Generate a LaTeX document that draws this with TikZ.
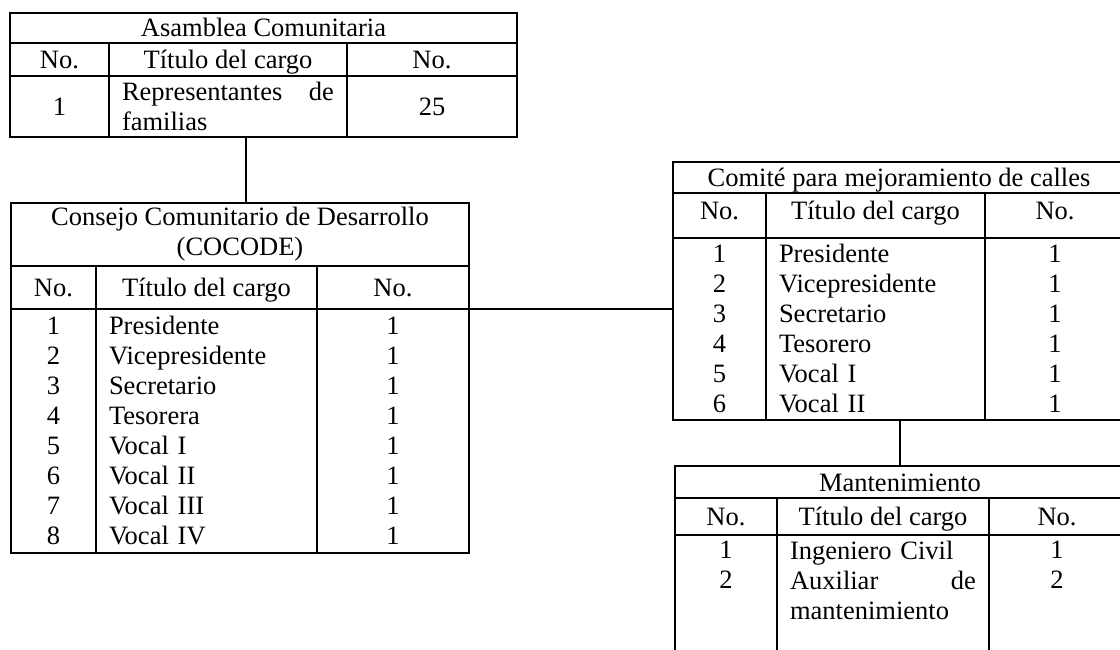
\documentclass[tikz,border=0pt]{standalone}
\usepackage{fontspec}
\setmainfont{Liberation Serif}
\usetikzlibrary{positioning}
\newcommand{\tabfont}{\fontsize{26.5pt}{30pt}\selectfont}

\begin{document}
\begin{tikzpicture}[
    x=1pt, y=-1pt,
    cell/.style={rectangle, draw, line width=1.1pt, inner sep=0pt, outer sep=0pt, anchor=north west, font=\tabfont, align=center},
    hdrcell/.style={cell, text height=18pt, text depth=0pt},
    textcell/.style={cell, align=left, inner xsep=13pt, text width=#1},
    link/.style={line width=1.1pt},
  ]
  \clip (0,0) rectangle (1120,650);

  % Asamblea Comunitaria
  \node[hdrcell, minimum width=507pt, minimum height=30pt] (asamblea) at (10,13) {Asamblea Comunitaria};
  \node[hdrcell, minimum width=99pt, minimum height=33pt] (asamblea-no) at (asamblea.south west) {No.};
  \node[hdrcell, minimum width=238pt, minimum height=33pt, right=0pt of asamblea-no] (asamblea-cargo) {Título del cargo};
  \node[hdrcell, minimum width=170pt, minimum height=33pt, right=0pt of asamblea-cargo] (asamblea-num) {No.};
  \node[cell, minimum width=99pt, minimum height=61pt, below=0pt of asamblea-no] (asamblea-no-b) {1};
  \node[textcell=212pt, minimum height=61pt, below=0pt of asamblea-cargo] (asamblea-cargo-b) {Representantes\hfill de\\familias};
  \node[cell, minimum width=170pt, minimum height=61pt, below=0pt of asamblea-num] (asamblea-num-b) {25};

  % COCODE
  \node[cell, minimum width=458pt, minimum height=63pt] (cocode) at (11,203) {Consejo Comunitario de Desarrollo\\(COCODE)};
  \node[hdrcell, minimum width=85pt, minimum height=43pt] (cocode-no) at (cocode.south west) {No.};
  \node[hdrcell, minimum width=221pt, minimum height=43pt, right=0pt of cocode-no] (cocode-cargo) {Título del cargo};
  \node[hdrcell, minimum width=152pt, minimum height=43pt, right=0pt of cocode-cargo] (cocode-num) {No.};
  \node[cell, minimum width=85pt, minimum height=244pt, below=0pt of cocode-no] (cocode-no-b) {1\\2\\3\\4\\5\\6\\7\\8};
  \node[textcell=195pt, minimum height=244pt, below=0pt of cocode-cargo] (cocode-cargo-b) {Presidente\\Vicepresidente\\Secretario\\Tesorera\\Vocal I\\Vocal II\\Vocal III\\Vocal IV};
  \node[cell, minimum width=152pt, minimum height=244pt, below=0pt of cocode-num] (cocode-num-b) {1\\1\\1\\1\\1\\1\\1\\1};

  % Comite para mejoramiento de calles
  \node[hdrcell, minimum width=452pt, minimum height=31pt] (comite) at (673,162) {Comité para mejoramiento de calles};
  \node[hdrcell, text depth=11pt, minimum width=93pt, minimum height=45pt] (comite-no) at (comite.south west) {No.};
  \node[hdrcell, text depth=11pt, minimum width=219pt, minimum height=45pt, right=0pt of comite-no] (comite-cargo) {Título del cargo};
  \node[hdrcell, text depth=11pt, minimum width=140pt, minimum height=45pt, right=0pt of comite-cargo] (comite-num) {No.};
  \node[cell, minimum width=93pt, minimum height=182pt, below=0pt of comite-no] (comite-no-b) {1\\2\\3\\4\\5\\6};
  \node[textcell=193pt, minimum height=182pt, below=0pt of comite-cargo] (comite-cargo-b) {Presidente\\Vicepresidente\\Secretario\\Tesorero\\Vocal I\\Vocal II};
  \node[cell, minimum width=140pt, minimum height=182pt, below=0pt of comite-num] (comite-num-b) {1\\1\\1\\1\\1\\1};

  % Mantenimiento
  \node[hdrcell, minimum width=450pt, minimum height=32pt] (mant) at (675,466) {Mantenimiento};
  \node[hdrcell, minimum width=102pt, minimum height=37pt] (mant-no) at (mant.south west) {No.};
  \node[hdrcell, minimum width=212pt, minimum height=37pt, right=0pt of mant-no] (mant-cargo) {Título del cargo};
  \node[hdrcell, minimum width=136pt, minimum height=37pt, right=0pt of mant-cargo] (mant-num) {No.};
  \node[cell, minimum width=102pt, minimum height=150pt, below=0pt of mant-no] (mant-no-b) {1\\2\\~\\~\\~};
  \node[textcell=186pt, minimum height=150pt, below=0pt of mant-cargo] (mant-cargo-b) {Ingeniero Civil\\Auxiliar\hfill de\\mantenimiento\\~\\~};
  \node[cell, minimum width=136pt, minimum height=150pt, below=0pt of mant-num] (mant-num-b) {1\\2\\~\\~\\~};

  % connection lines
  \draw[link] ([xshift=6pt]cocode.north) -- ([xshift=6pt]cocode.north |- asamblea-cargo-b.south);
  \draw[link] (cocode-num.south east) -- (cocode-num.south east -| comite.west);
  \draw[link] (mant.north) -- (mant.north |- comite-cargo-b.south);
\end{tikzpicture}
\end{document}
